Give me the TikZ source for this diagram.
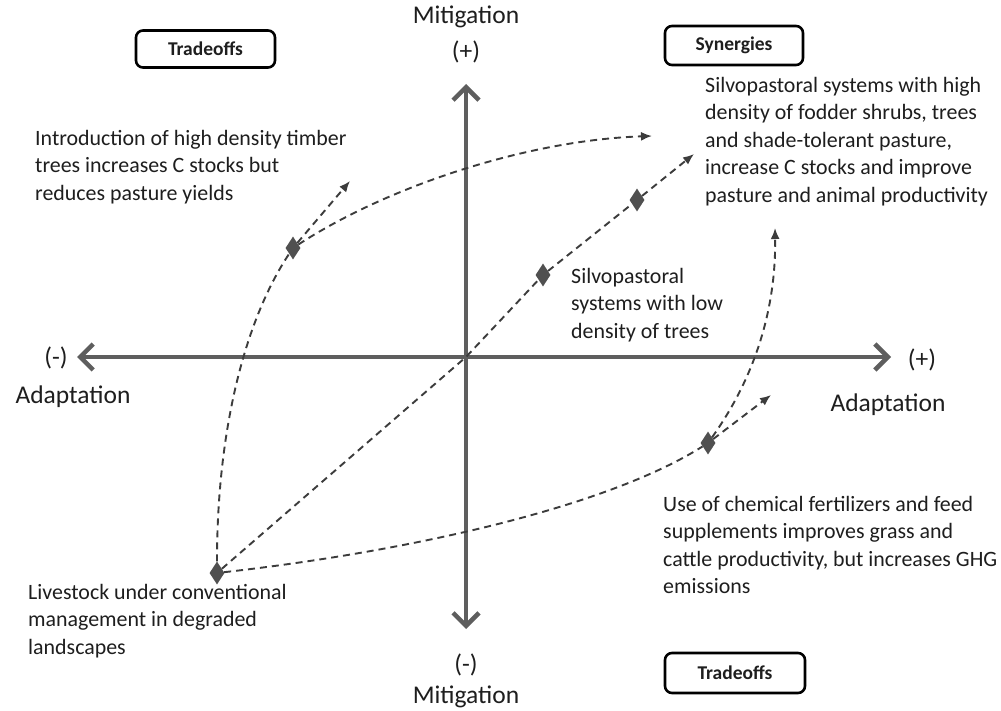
\documentclass[tikz,border=0pt]{standalone}
\usepackage{fontspec}
\setmainfont{Carlito}
\usetikzlibrary{arrows.meta,shapes.geometric}
\definecolor{axisgray}{HTML}{5E5E5E}
\definecolor{dashgray}{HTML}{3C3C3C}
\definecolor{diagray}{HTML}{505050}
\definecolor{txt}{HTML}{1E1E1E}
\begin{document}
\begin{tikzpicture}[x=1pt,y=-1pt,
  axisline/.style={line width=4.5pt, draw=axisgray, {Straight Barb[length=13pt,width=26pt,line width=4.5pt]}-{Straight Barb[length=13pt,width=26pt,line width=4.5pt]}},
  dashline/.style={line width=1.9pt, draw=dashgray, dash pattern=on 7pt off 5pt},
  tip/.style={-{Latex[length=11pt,width=9pt]}},
  dia/.style={diamond, fill=diagray, draw=none, aspect=0.6, minimum width=15pt, minimum height=23pt, inner sep=0pt},
  box/.style={draw=black, line width=2.6pt, rounded corners=7pt, inner sep=0pt, text=txt, font=\bfseries\fontsize{19.5pt}{22pt}\selectfont},
  body/.style={align=left, inner sep=0pt, text=txt, font=\fontsize{21.9pt}{27.5pt}\selectfont, anchor=north west},
  axlab/.style={inner sep=0pt, text=txt, font=\fontsize{25.5pt}{28pt}\selectfont}
]
\useasboundingbox[fill=white] (0,0) rectangle (1001,711);

% axes
\coordinate (xl) at (77,357);
\coordinate (xr) at (891,357);
\coordinate (yt) at (466,84);
\coordinate (yb) at (466,629);
\coordinate (o) at (466,357);
\draw[axisline] (xl) -- (xr);
\draw[axisline] (yt) -- (yb);

% axis labels
\node[axlab] (mt) at (466,17) {Mitigation};
\node[axlab] (pt) at (466,52) {(+)};
\node[axlab] (mb) at (466,665) {(-)};
\node[axlab] (mbl) at (466,697) {Mitigation};
\node[axlab] (ml) at (56,358) {(-)};
\node[axlab] (al) at (73,397) {Adaptation};
\node[axlab] (pr) at (922,360) {(+)};
\node[axlab] (ar) at (888,405) {Adaptation};

% boxes
\node[box, minimum width=139pt, minimum height=37pt] (b1) at (205.5,49) {Tradeoffs};
\node[box, minimum width=138pt, minimum height=39pt] (b2) at (734,45.5) {Synergies};
\node[box, minimum width=140pt, minimum height=40pt] (b3) at (735,673) {Tradeoffs};

% diamonds
\node[dia] (d1) at (293,248) {};
\node[dia] (d2) at (637,200) {};
\node[dia] (d3) at (543,275) {};
\node[dia] (d4) at (708,443) {};
\node[dia] (d5) at (217,573) {};

% arrow ends
\coordinate (e1) at (350,181);
\coordinate (e2) at (652,136);
\coordinate (e3) at (694,154);
\coordinate (e4) at (771,395);
\coordinate (e5) at (775,228);

% connectors
\draw[dashline] (d5) .. controls (217,430) and (245,320) .. (d1);
\draw[dashline,tip] (d1) -- (e1);
\draw[dashline,tip] (d1) .. controls (390,185) and (530,140) .. (e2);
\draw[dashline] (d5) -- (o) -- (d3);
\draw[dashline] (d3) -- (d2);
\draw[dashline,tip] (d2) -- (e3);
\draw[dashline] (d5) .. controls (420,550) and (610,505) .. (d4);
\draw[dashline,tip] (d4) -- (e4);
\draw[dashline,tip] (d4) .. controls (760,370) and (776,300) .. (e5);

% texts
\node[body] (t1) at (35,126) {\strut Introduction of high density timber\\trees increases C stocks but\\reduces pasture yields};
\node[body] (t2) at (705,73) {\strut Silvopastoral systems with high\\density of fodder shrubs, trees\\and shade-tolerant pasture,\\increase C stocks and improve\\pasture and animal productivity};
\node[body] (t3) at (571,264) {\strut Silvopastoral\\systems with low\\density of trees};
\node[body] (t4) at (663,492) {\strut Use of chemical fertilizers and feed\\supplements improves grass and\\cattle productivity, but increases GHG\\emissions};
\node[body] (t5) at (28,580) {\strut Livestock under conventional\\management in degraded\\landscapes};
\end{tikzpicture}
\end{document}
